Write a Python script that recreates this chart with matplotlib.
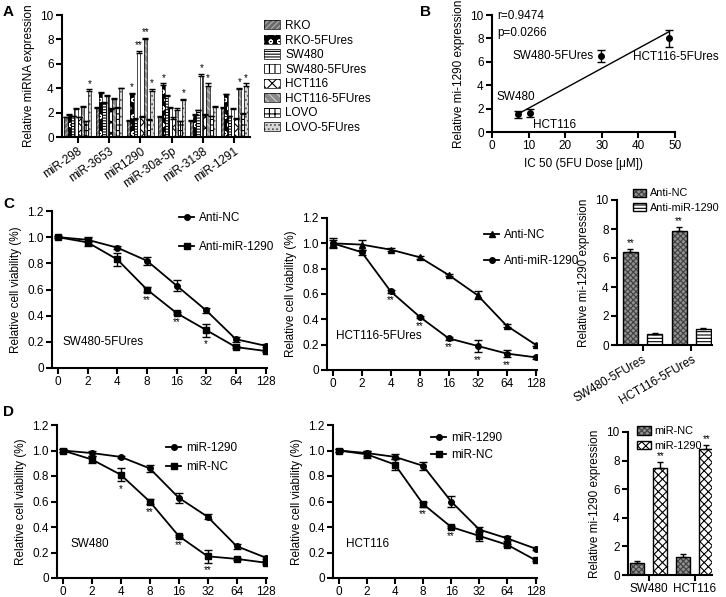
import numpy as np
import matplotlib
matplotlib.use("Agg")
import matplotlib.pyplot as plt
from matplotlib.legend_handler import HandlerTuple

plt.rcParams['font.family'] = ['Liberation Sans', 'DejaVu Sans']
plt.rcParams['font.size'] = 8.5
plt.rcParams['hatch.linewidth'] = 0.8
plt.rcParams['axes.linewidth'] = 1.5
plt.rcParams['xtick.major.width'] = 1.5
plt.rcParams['ytick.major.width'] = 1.5
plt.rcParams['xtick.major.size'] = 4
plt.rcParams['ytick.major.size'] = 4

# ---- Panel A data ----
mirnas = ['miR-298', 'miR-3653', 'miR1290', 'miR-30a-5p', 'miR-3138', 'miR-1291']
lineas = ['RKO', 'RKO-5FUres', 'SW480', 'SW480-5FUres', 'HCT116', 'HCT116-5FUres', 'LOVO', 'LOVO-5FUres']
# filas = miRNA, columnas = línea celular
expr_a = [
    [1.6, 1.8, 1.7, 2.3, 1.6, 2.5, 1.3, 3.8],
    [2.4, 3.6, 2.8, 3.4, 2.3, 3.1, 2.4, 4.0],
    [1.3, 3.5, 1.5, 6.9, 1.6, 8.0, 1.4, 3.8],
    [1.6, 4.3, 3.4, 2.4, 1.5, 2.2, 1.3, 3.0],
    [1.3, 1.8, 2.2, 5.0, 1.8, 4.2, 1.7, 2.5],
    [2.4, 3.5, 1.7, 2.3, 1.5, 3.9, 1.9, 4.2],
]
err_a = [
    [0.05, 0.1, 0.05, 0.1, 0.05, 0.05, 0.05, 0.1],
    [0.1, 0.1, 0.05, 0.05, 0.1, 0.1, 0.05, 0.05],
    [0.1, 0.1, 0.05, 0.15, 0.1, 0.15, 0.05, 0.15],
    [0.1, 0.1, 0.05, 0.1, 0.1, 0.2, 0.05, 0.15],
    [0.1, 0.05, 0.05, 0.2, 0.05, 0.2, 0.05, 0.05],
    [0.1, 0.05, 0.05, 0.05, 0.05, 0.15, 0.05, 0.2],
]
stars_a = [
    ['', '', '', '', '', '', '', '*'],
    ['', '', '', '', '', '', '', ''],
    ['', '*', '', '**', '', '**', '', '*'],
    ['', '*', '', '', '', '', '', '*'],
    ['', '', '', '*', '', '*', '', ''],
    ['', '', '', '', '', '*', '', '*'],
]

# ---- Panel B data ----
b_ic50 = [7.1, 10.3, 29.8, 48.3]
b_expr = [1.5, 1.6, 6.5, 8.0]
b_err = [0.3, 0.35, 0.5, 0.75]
b_nombres = ['SW480', 'HCT116', 'SW480-5FUres', 'HCT116-5FUres']

# ---- Panels C / D (viabilidad) ----
dosis = ['0', '2', '4', '8', '16', '32', '64', '128']

c1_nc = [1.0, 0.98, 0.92, 0.82, 0.63, 0.44, 0.22, 0.17]
c1_nc_err = [0.01, 0.02, 0.01, 0.03, 0.04, 0.02, 0.02, 0.01]
c1_anti = [1.0, 0.96, 0.83, 0.60, 0.42, 0.29, 0.16, 0.13]
c1_anti_err = [0.01, 0.03, 0.05, 0.02, 0.01, 0.05, 0.01, 0.01]
c1_stars = ['', '', '', '**', '**', '*', '', '']

c2_nc = [1.0, 0.99, 0.95, 0.89, 0.75, 0.59, 0.35, 0.20]
c2_nc_err = [0.04, 0.04, 0.01, 0.01, 0.01, 0.03, 0.01, 0.01]
c2_anti = [1.0, 0.93, 0.62, 0.42, 0.25, 0.19, 0.13, 0.10]
c2_anti_err = [0.03, 0.02, 0.01, 0.01, 0.01, 0.05, 0.03, 0.01]
c2_stars = ['', '', '**', '**', '**', '**', '**', '']

c3_grupos = ['SW480-5FUres', 'HCT116-5FUres']
c3_nc = [6.4, 7.85]
c3_nc_err = [0.25, 0.3]
c3_anti = [0.75, 1.1]
c3_anti_err = [0.05, 0.1]

d1_mir = [1.0, 0.98, 0.95, 0.86, 0.63, 0.48, 0.25, 0.16]
d1_mir_err = [0.01, 0.02, 0.01, 0.03, 0.04, 0.02, 0.02, 0.01]
d1_nc = [1.0, 0.93, 0.81, 0.60, 0.33, 0.17, 0.15, 0.12]
d1_nc_err = [0.01, 0.03, 0.05, 0.02, 0.01, 0.05, 0.01, 0.01]
d1_stars = ['', '', '*', '**', '**', '**', '', '']

d2_mir = [1.0, 0.98, 0.95, 0.88, 0.60, 0.38, 0.31, 0.23]
d2_mir_err = [0.01, 0.02, 0.02, 0.03, 0.04, 0.02, 0.02, 0.01]
d2_nc = [1.0, 0.97, 0.89, 0.58, 0.40, 0.33, 0.26, 0.14]
d2_nc_err = [0.01, 0.03, 0.04, 0.02, 0.01, 0.04, 0.01, 0.01]
d2_stars = ['', '', '', '**', '**', '', '', '']

d3_grupos = ['SW480', 'HCT116']
d3_nc = [0.85, 1.25]
d3_nc_err = [0.1, 0.2]
d3_mir = [7.5, 8.8]
d3_mir_err = [0.4, 0.3]

W, H = 726, 597
fig = plt.figure(figsize=(W / 100, H / 100), dpi=100)


def ejes(l, t, r, b):
    ax = fig.add_axes([l / W, 1 - b / H, (r - l) / W, (b - t) / H])
    ax.spines['top'].set_visible(False)
    ax.spines['right'].set_visible(False)
    ax.tick_params(direction='out', labelsize=8.5, pad=2)
    return ax


def barras(ax, x, h, w, cara, trama, color_trama, err=None, lw=1.0):
    # relleno con trama y luego el contorno negro encima
    b1 = ax.bar(x, h, w, color=cara, hatch=trama, edgecolor=color_trama, linewidth=0, zorder=2)
    b2 = ax.bar(x, h, w, fill=False, edgecolor='black', linewidth=lw, zorder=3)
    if err is not None:
        ax.errorbar(x, h, yerr=[np.zeros(len(h)), err], fmt='none', ecolor='black',
                    elinewidth=1.0, capsize=2.5, capthick=1.0, zorder=4)
    return (b1, b2)


# ================= Panel A =================
axA = ejes(62, 15, 250, 137)
estilos = [
    ('#6a6a6a', '//////', '#b0b0b0'),
    ('black', 'oo', 'white'),
    ('white', '------', 'black'),
    ('white', '|||', 'black'),
    ('white', 'xxx', 'black'),
    ('#8a8a8a', '\\\\\\\\', '#d0d0d0'),
    ('white', '+++', 'black'),
    ('#d8d8d8', '....', '#555555'),
]
expr = np.array(expr_a)
errs = np.array(err_a)
nb = len(lineas)
w = 0.85 / nb
xg = np.arange(len(mirnas))
mangos = []
for j in range(nb):
    xs = xg - 0.425 + w * (j + 0.5)
    cara, trama, ct = estilos[j]
    mangos.append(barras(axA, xs, expr[:, j], w, cara, trama, ct, errs[:, j], lw=0.5))
    for i in range(len(mirnas)):
        if stars_a[i][j]:
            axA.text(xs[i], expr[i, j] + errs[i, j] + 0.05, stars_a[i][j], ha='center',
                     va='bottom', fontsize=7)
axA.set_xlim(-0.5, 5.5)
axA.set_ylim(0, 10)
axA.set_yticks([0, 2, 4, 6, 8, 10])
axA.set_xticks(xg)
axA.set_xticklabels(mirnas, rotation=35, ha='right', rotation_mode='anchor')
axA.set_ylabel('Relative miRNA expression', fontsize=8.5)
leg = axA.legend(mangos, lineas, handler_map={tuple: HandlerTuple(ndivide=1)},
                 loc='upper left', bbox_to_anchor=(258 / W, 1 - 14 / H),
                 bbox_transform=fig.transFigure, frameon=False, fontsize=8.5,
                 handlelength=1.4, handleheight=0.8, labelspacing=0.22, handletextpad=0.4,
                 borderpad=0)

# ================= Panel B =================
axB = ejes(492, 15, 675, 132)
axB.errorbar(b_ic50, b_expr, yerr=b_err, fmt='o', color='black', markersize=4,
             elinewidth=1.0, capsize=3, capthick=1.0, zorder=3)
pend, orden = np.polyfit(b_ic50, b_expr, 1)
xl = np.array([min(b_ic50), max(b_ic50)])
axB.plot(xl, pend * xl + orden, color='black', lw=1.0)
axB.set_xlim(0, 50)
axB.set_ylim(0, 10)
axB.set_xticks([0, 10, 20, 30, 40, 50])
axB.set_yticks([0, 2, 4, 6, 8, 10])
axB.set_xlabel('IC 50 (5FU Dose [μM])', fontsize=8.5)
axB.set_ylabel('Relative mi-1290 expression', fontsize=8.5)
axB.text(1.5, 9.9, 'r=0.9474', fontsize=8.5, va='center')
axB.text(1.5, 8.5, 'p=0.0266', fontsize=8.5, va='center')
axB.text(1.3, 3.0, b_nombres[0], fontsize=8.5, va='center')
axB.text(b_ic50[1] + 0.8, b_expr[1] - 0.5, b_nombres[1], fontsize=8.5, va='top')
axB.text(b_ic50[2] - 2, b_expr[2], b_nombres[2], fontsize=8.5, va='center', ha='right')
axB.text(38.5, 6.4, b_nombres[3], fontsize=8.5, va='center', ha='left')


# ================= curvas de viabilidad =================
def curvas(ax, series, estrellas, etiqueta, pos_etiqueta, leg_pos, leg_space):
    x = np.arange(len(dosis))
    hs = []
    for vals, err, mk, lab in series:
        ax.errorbar(x, vals, yerr=err, color='black', marker=mk, markersize=4, lw=1.3,
                    elinewidth=1.0, capsize=3, capthick=1.0, zorder=3)
        hs.append(ax.plot([], [], color='black', marker=mk, markersize=4, lw=1.3, label=lab)[0])
    bajo, bajo_err = series[1][0], series[1][1]
    for i, s in enumerate(estrellas):
        if s:
            ax.text(x[i], bajo[i] - bajo_err[i] - 0.02, s, ha='center', va='top', fontsize=7)
    ax.set_xlim(-0.2, 7.05)
    ax.set_ylim(0, 1.2)
    ax.set_xticks(x)
    ax.set_xticklabels(dosis)
    ax.set_yticks([0, 0.2, 0.4, 0.6, 0.8, 1.0, 1.2])
    ax.set_yticklabels(['0', '0.2', '0.4', '0.6', '0.8', '1.0', '1.2'])
    ax.set_ylabel('Relative cell viability (%)', fontsize=8.5)
    ax.text(pos_etiqueta[0], pos_etiqueta[1], etiqueta, fontsize=8.5, va='center')
    ax.legend(handles=hs, loc='upper left', bbox_to_anchor=(leg_pos[0] / W, 1 - leg_pos[1] / H),
              bbox_transform=fig.transFigure, frameon=False, fontsize=8.5, handlelength=1.3,
              handletextpad=0.4, labelspacing=leg_space, borderpad=0)


axC1 = ejes(52, 211, 267, 368)
curvas(axC1, [(c1_nc, c1_nc_err, 'o', 'Anti-NC'), (c1_anti, c1_anti_err, 's', 'Anti-miR-1290')],
       c1_stars, 'SW480-5FUres', (0.15, 0.2), (173, 206), 1.45)

axC2 = ejes(327, 218, 537, 370)
curvas(axC2, [(c2_nc, c2_nc_err, '^', 'Anti-NC'), (c2_anti, c2_anti_err, 'o', 'Anti-miR-1290')],
       c2_stars, 'HCT116-5FUres', (0.1, 0.27), (478, 223), 1.2)

axD1 = ejes(57, 425, 267, 578)
curvas(axD1, [(d1_mir, d1_mir_err, 'o', 'miR-1290'), (d1_nc, d1_nc_err, 's', 'miR-NC')],
       d1_stars, 'SW480', (0.25, 0.27), (160, 436), 0.6)

axD2 = ejes(333, 425, 537, 578)
curvas(axD2, [(d2_mir, d2_mir_err, 'o', 'miR-1290'), (d2_nc, d2_nc_err, 's', 'miR-NC')],
       d2_stars, 'HCT116', (0.25, 0.27), (425, 426), 0.45)


# ================= barras C3 / D3 =================
def barras_pares(ax, grupos, v1, e1, st1, v2, e2, st2, labs, estrellas_en, rot, leg_pos, fs):
    xg = np.arange(len(grupos)) * 2.0
    w = 0.62
    h1 = barras(ax, xg, v1, w, st1[0], st1[1], st1[2], e1)
    h2 = barras(ax, xg + 1, v2, w, st2[0], st2[1], st2[2], e2)
    vals = v1 if estrellas_en == 0 else v2
    errs = e1 if estrellas_en == 0 else e2
    off = 0 if estrellas_en == 0 else 1
    for i in range(len(grupos)):
        ax.text(xg[i] + off, vals[i] + errs[i] + 0.05, '**', ha='center', va='bottom', fontsize=7)
    ax.set_ylim(0, 10)
    ax.set_yticks([0, 2, 4, 6, 8, 10])
    ax.set_xticks(xg + 0.5)
    if rot:
        ax.set_xticklabels(grupos, rotation=30, ha='right', rotation_mode='anchor')
    else:
        ax.set_xticklabels(grupos)
    ax.set_ylabel('Relative mi-1290 expression', fontsize=8.5)
    ax.legend([h1, h2], labs, handler_map={tuple: HandlerTuple(ndivide=1)}, loc='upper left',
              bbox_to_anchor=(leg_pos[0] / W, 1 - leg_pos[1] / H), bbox_transform=fig.transFigure,
              frameon=False, fontsize=fs, handlelength=1.2, handleheight=0.8,
              handletextpad=0.3, labelspacing=0.4, borderpad=0)


axC3 = ejes(617, 200, 712, 345)
barras_pares(axC3, c3_grupos, c3_nc, c3_nc_err, ('#909090', 'xxxxxx', '#404040'),
             c3_anti, c3_anti_err, ('white', '-----', 'black'),
             ['Anti-NC', 'Anti-miR-1290'], 0, True, (628, 183), 7.8)
axC3.set_xlim(-0.55, 3.35)

axD3 = ejes(628, 432, 712, 575)
barras_pares(axD3, d3_grupos, d3_nc, d3_nc_err, ('#909090', 'xxxxxx', '#404040'),
             d3_mir, d3_mir_err, ('white', 'xxxx', 'black'),
             ['miR-NC', 'miR-1290'], 1, False, (632, 421), 7.9)
axD3.set_xlim(-0.4, 3.25)

# letras de panel
for letra, x, y in [('A', 3, 12), ('B', 420, 12), ('C', 3, 204), ('D', 3, 412)]:
    fig.text(x / W, 1 - y / H, letra, fontsize=11, fontweight='bold', va='center')

fig.savefig('out.png', dpi=100)
